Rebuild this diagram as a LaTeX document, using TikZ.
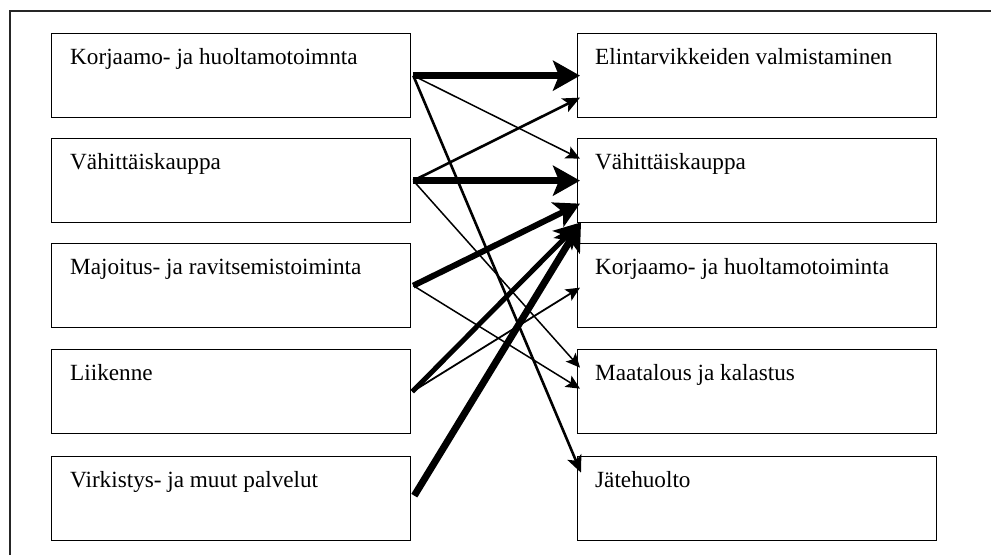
\documentclass[tikz,border=0pt]{standalone}
\usepackage{fontspec}
\setmainfont{Liberation Serif}
\usetikzlibrary{arrows.meta}
\tikzset{
  boxnode/.style={draw=black, line width=1.3pt, anchor=north west, inner sep=0pt,
    minimum width=359pt, minimum height=84pt},
  labeltext/.style={anchor=base west, inner sep=0pt, font=\fontsize{23.2pt}{27pt}\selectfont},
  framestyle/.style={line width=2pt, draw=black!85},
  wthin/.style={line width=1.5pt, -{Stealth[length=14pt, width=13pt, inset=3pt]}},
  wmed/.style={line width=2.6pt, -{Stealth[length=17pt, width=15pt, inset=4pt]}},
  wthick/.style={line width=5pt, -{Stealth[length=25pt, width=27pt, inset=6pt]}},
  wheavy/.style={line width=7pt, -{Stealth[length=27pt, width=30pt, inset=6pt]}}
}
\begin{document}
\begin{tikzpicture}[x=1pt, y=-1pt]
\useasboundingbox (0,0) rectangle (991,555);
% frame
\coordinate (fa) at (10,555);
\coordinate (fb) at (10,11);
\coordinate (fc) at (991,11);
\draw[framestyle] (fa) -- (fb) -- (fc);
% left boxes
\node[boxnode] (L1) at (51,33) {};
\node[boxnode] (L2) at (51,138) {};
\node[boxnode] (L3) at (51,243) {};
\node[boxnode] (L4) at (51,349) {};
\node[boxnode] (L5) at (51,456) {};
% right boxes
\node[boxnode] (R1) at (577,33) {};
\node[boxnode] (R2) at (577,138) {};
\node[boxnode] (R3) at (577,243) {};
\node[boxnode] (R4) at (577,349) {};
\node[boxnode] (R5) at (577,456) {};
% texts
\node[labeltext] (tL1) at ([xshift=19pt, yshift=-31pt]L1.north west) {Korjaamo- ja huoltamotoimnta};
\node[labeltext] (tL2) at ([xshift=19pt, yshift=-31pt]L2.north west) {Vähittäiskauppa};
\node[labeltext] (tL3) at ([xshift=19pt, yshift=-31pt]L3.north west) {Majoitus- ja ravitsemistoiminta};
\node[labeltext] (tL4) at ([xshift=19pt, yshift=-31pt]L4.north west) {Liikenne};
\node[labeltext] (tL5) at ([xshift=19pt, yshift=-31pt]L5.north west) {Virkistys- ja muut palvelut};
\node[labeltext] (tR1) at ([xshift=18pt, yshift=-31pt]R1.north west) {Elintarvikkeiden valmistaminen};
\node[labeltext] (tR2) at ([xshift=18pt, yshift=-31pt]R2.north west) {Vähittäiskauppa};
\node[labeltext] (tR3) at ([xshift=18pt, yshift=-31pt]R3.north west) {Korjaamo- ja huoltamotoiminta};
\node[labeltext] (tR4) at ([xshift=18pt, yshift=-31pt]R4.north west) {Maatalous ja kalastus};
\node[labeltext] (tR5) at ([xshift=18pt, yshift=-31pt]R5.north west) {Jätehuolto};
% connectors
\draw[wheavy] ([xshift=2pt]L1.east) -- ([xshift=3pt]R1.west);
\draw[wthin]  ([xshift=2pt]L1.east) -- ([xshift=3pt, yshift=22pt]R2.west);
\draw[wmed]   ([xshift=2pt]L1.east) -- ([xshift=4pt, yshift=26pt]R5.west);
\draw[wmed]   ([xshift=2pt]L2.east) -- ([xshift=3pt, yshift=-22pt]R1.west);
\draw[wheavy] ([xshift=2pt]L2.east) -- ([xshift=3pt]R2.west);
\draw[wthin]  ([xshift=2pt]L2.east) -- ([xshift=3pt, yshift=24pt]R4.west);
\draw[wthick, line width=6pt] ([xshift=2pt]L3.east) -- ([xshift=3pt, yshift=-23pt]R2.west);
\draw[wthin]  ([xshift=2pt]L3.east) -- ([xshift=3pt, yshift=3pt]R4.west);
\draw[wthick] ([xshift=1pt]L4.east) -- ([xshift=3pt, yshift=-42pt]R2.west);
\draw[wthin, line width=1.8pt] ([xshift=1pt]L4.east) -- ([xshift=3pt, yshift=-2pt]R3.west);
\draw[wheavy] ([xshift=3pt, yshift=3pt]L5.east) -- ([xshift=4pt, yshift=-42pt]R2.west);
\end{tikzpicture}
\end{document}
